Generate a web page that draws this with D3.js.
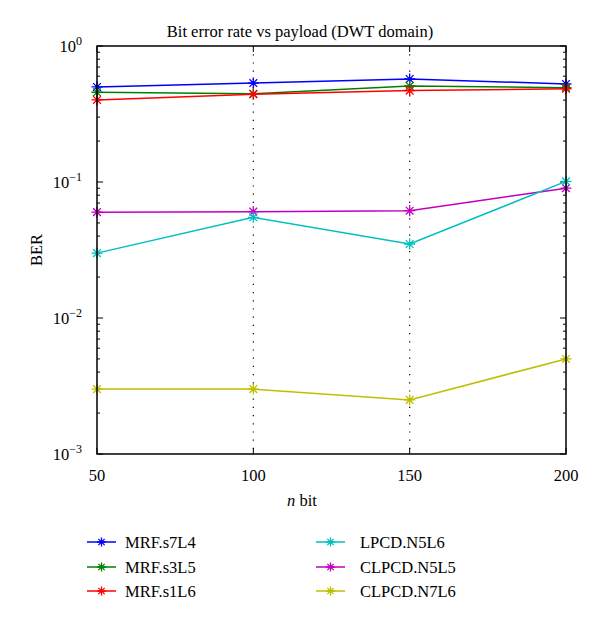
<!DOCTYPE html>
<html><head><meta charset="utf-8">
<script src="https://cdn.jsdelivr.net/npm/d3@7"></script>
<style>body{margin:0;background:#fff}svg{font-family:"Liberation Serif","DejaVu Serif",serif}</style>
</head><body>
<svg id="c" width="600" height="619"></svg>
<script>
const xValues = [50, 100, 150, 200];
const seriesNames = ["MRF.s7L4", "MRF.s3L5", "MRF.s1L6", "LPCD.N5L6", "CLPCD.N5L5", "CLPCD.N7L6"];
const seriesColors = ["#0000ff", "#008000", "#ff0000", "#00bfbf", "#bf00bf", "#bfbf00"];
const mrfS7L4 = [0.50, 0.534, 0.572, 0.526];
const mrfS3L5 = [0.457, 0.445, 0.508, 0.494];
const mrfS1L6 = [0.401, 0.442, 0.470, 0.485];
const lpcdN5L6 = [0.030, 0.055, 0.035, 0.101];
const clpcdN5L5 = [0.060, 0.0605, 0.0615, 0.090];
const clpcdN7L6 = [0.0030, 0.0030, 0.0025, 0.0050];
const seriesValues = [mrfS7L4, mrfS3L5, mrfS1L6, lpcdN5L6, clpcdN5L5, clpcdN7L6];
const xTicks = [50, 100, 150, 200];
const yMajor = [1e-3, 1e-2, 1e-1, 1];
const yExp = ["−3", "−2", "−1", "0"];

const svg = d3.select("#c");
const L = 97, R = 566, T = 46, B = 454;
const x = d3.scaleLinear().domain([50, 200]).range([L, R]);
const y = d3.scaleLog().domain([1e-3, 1]).range([B, T]);

// grid dotted
svg.append("g").selectAll("line").data([100, 150]).join("line")
  .attr("x1", d => x(d)).attr("x2", d => x(d)).attr("y1", T).attr("y2", B)
  .attr("stroke", "#000").attr("stroke-width", 1.2).attr("stroke-dasharray", "1.2,7");

// minor ticks
const minor = [];
for (let e = -3; e < 0; e++) for (let m = 2; m <= 9; m++) minor.push(m * Math.pow(10, e));
const tg = svg.append("g").attr("stroke", "#000").attr("stroke-width", 1);
minor.forEach(v => {
  tg.append("line").attr("x1", L).attr("x2", L + 3).attr("y1", y(v)).attr("y2", y(v));
  tg.append("line").attr("x1", R).attr("x2", R - 3).attr("y1", y(v)).attr("y2", y(v));
});
yMajor.forEach(v => {
  tg.append("line").attr("x1", L).attr("x2", L + 6).attr("y1", y(v)).attr("y2", y(v));
  tg.append("line").attr("x1", R).attr("x2", R - 6).attr("y1", y(v)).attr("y2", y(v));
});
xTicks.forEach(v => {
  tg.append("line").attr("x1", x(v)).attr("x2", x(v)).attr("y1", B).attr("y2", B - 6);
  tg.append("line").attr("x1", x(v)).attr("x2", x(v)).attr("y1", T).attr("y2", T + 6);
});

// series
const line = d3.line().x((d, i) => x(xValues[i])).y(d => y(d));
function star(g, cx, cy, s, color) {
  const p = `M${cx - s},${cy}L${cx + s},${cy}M${cx},${cy - s}L${cx},${cy + s}M${cx - s * 0.7},${cy - s * 0.7}L${cx + s * 0.7},${cy + s * 0.7}M${cx - s * 0.7},${cy + s * 0.7}L${cx + s * 0.7},${cy - s * 0.7}`;
  g.append("path").attr("d", p).attr("stroke", color).attr("stroke-width", 1.3).attr("fill", "none");
}
const order = [5, 4, 3, 0, 1, 2];
order.forEach(k => {
  const g = svg.append("g");
  g.append("path").attr("d", line(seriesValues[k])).attr("fill", "none")
    .attr("stroke", seriesColors[k]).attr("stroke-width", 1.5);
  seriesValues[k].forEach((v, i) => star(g, x(xValues[i]), y(v), 5.5, seriesColors[k]));
});

// frame
svg.append("rect").attr("x", L).attr("y", T).attr("width", R - L).attr("height", B - T)
  .attr("fill", "none").attr("stroke", "#000").attr("stroke-width", 1.5);

// labels
svg.append("g").selectAll("text").data(xTicks).join("text")
  .attr("x", d => x(d)).attr("y", 481).attr("text-anchor", "middle")
  .attr("font-size", 16.5).text(d => d);
yMajor.forEach((v, i) => {
  const t = svg.append("text").attr("x", 82).attr("y", y(v) + 6).attr("text-anchor", "end").attr("font-size", 16.5);
  t.append("tspan").text("10");
  t.append("tspan").attr("dy", -7).attr("font-size", 12).text(yExp[i]);
});
svg.append("text").attr("x", 300).attr("y", 37).attr("text-anchor", "middle").attr("font-size", 16.5)
  .text("Bit error rate vs payload (DWT domain)");
svg.append("text").attr("transform", "translate(42,250) rotate(-90)").attr("text-anchor", "middle")
  .attr("font-size", 16.5).text("BER");
const xl = svg.append("text").attr("x", 302).attr("y", 506).attr("text-anchor", "middle").attr("font-size", 16.5);
xl.append("tspan").attr("font-style", "italic").text("n");
xl.append("tspan").text(" bit");

// legend
const rowsY = [542, 567, 591];
seriesNames.forEach((n, k) => {
  const col = Math.floor(k / 3), row = k % 3;
  const x0 = col === 0 ? 87 : 316, tx = col === 0 ? 125 : 360;
  const g = svg.append("g");
  g.append("line").attr("x1", x0).attr("x2", x0 + 29).attr("y1", rowsY[row]).attr("y2", rowsY[row])
    .attr("stroke", seriesColors[k]).attr("stroke-width", 1.5);
  star(g, x0 + 14.5, rowsY[row], 4.5, seriesColors[k]);
  g.append("text").attr("x", tx).attr("y", rowsY[row] + 6).attr("font-size", 16.5).text(n);
});
</script>
</body></html>
